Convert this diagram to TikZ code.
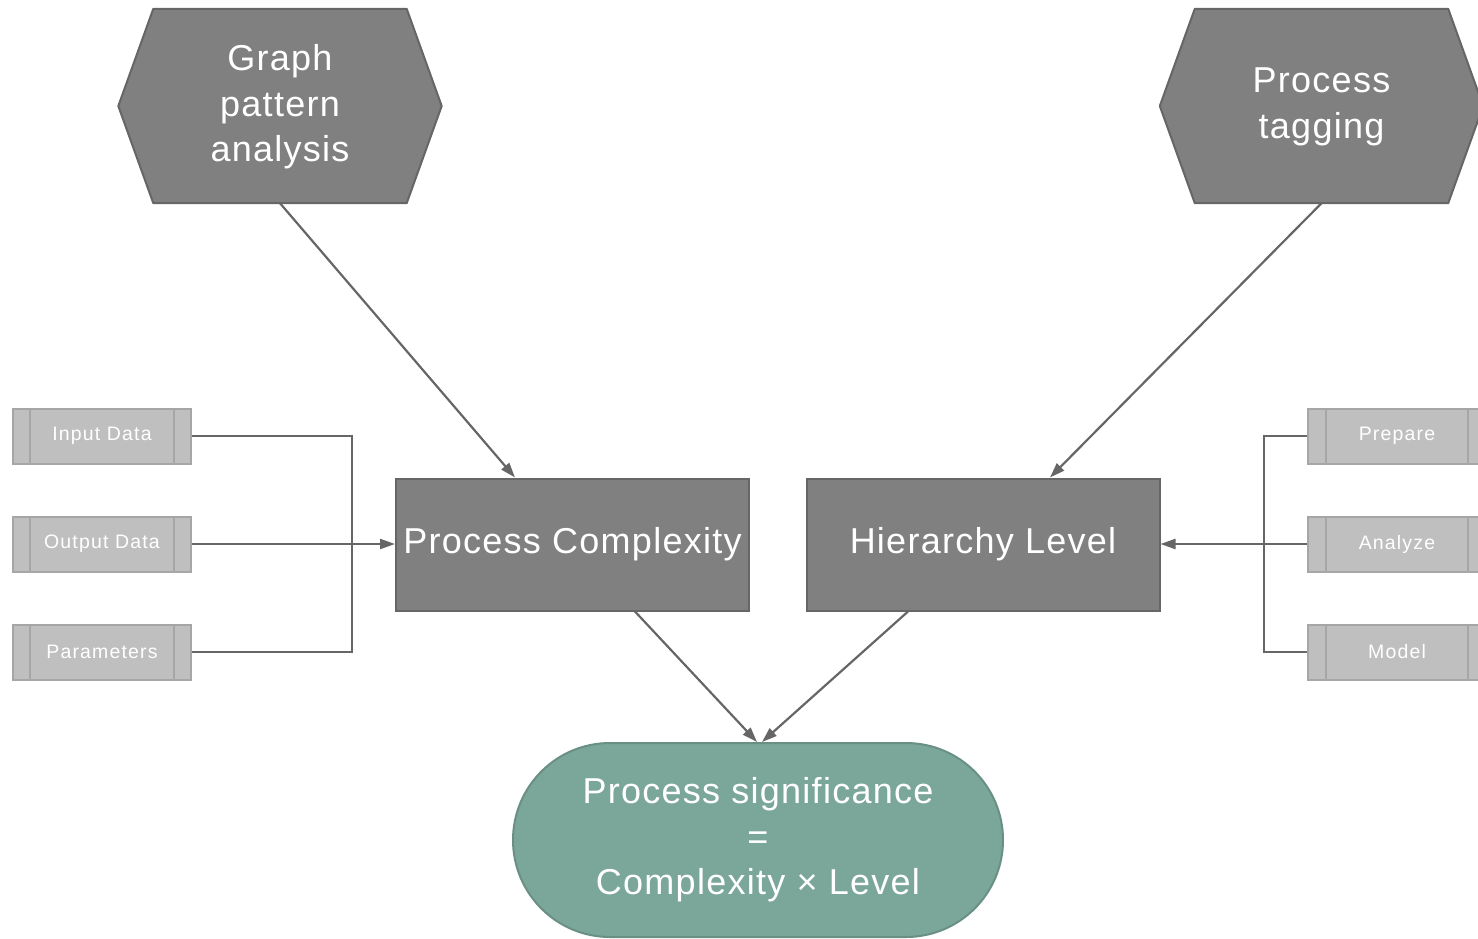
\documentclass[tikz,border=0pt]{standalone}
\usepackage{fontspec}
\setmainfont{Liberation Sans}
\newfontfamily\bigfont{Liberation Sans}[LetterSpace=3.5]
\newfontfamily\smallfont{Liberation Sans}[LetterSpace=6]
\usetikzlibrary{arrows.meta,shapes.misc,backgrounds}

\definecolor{darkbox}{HTML}{808080}
\definecolor{darkline}{HTML}{666666}
\definecolor{lightbox}{HTML}{BFBFBF}
\definecolor{lightline}{HTML}{A6A6A6}
\definecolor{resultfill}{HTML}{7BA69A}
\definecolor{resultline}{HTML}{6A8F84}

\tikzset{
  big/.style={font=\bigfont\fontsize{36}{45.5}\selectfont, text=white, align=center},
  hexlabel/.style={big, minimum width=323pt, minimum height=194pt, inner sep=0pt},
  hexfill/.style={fill=darkbox, draw=darkline, line width=2pt, line join=round},
  procbox/.style={big, rectangle, fill=darkbox, draw=darkline, line width=2pt,
    minimum width=353pt, minimum height=132pt, inner sep=0pt},
  subbox/.style={rectangle, fill=lightbox, draw=lightline, line width=2pt,
    minimum width=178pt, minimum height=55pt, inner sep=0pt, text=white,
    font=\smallfont\fontsize{19.5}{23}\selectfont},
  result/.style={big, rounded rectangle, fill=resultfill, draw=resultline, line width=2pt,
    minimum width=490pt, minimum height=194pt, inner sep=0pt},
  flow/.style={draw=darkline, line width=2.2pt, -{Triangle[length=15pt,width=10pt]}},
  feed/.style={draw=darkline, line width=2pt},
}

\begin{document}
\begin{tikzpicture}[x=1pt,y=-1pt]
\useasboundingbox (0,0) rectangle (1478,938);

% source hexagons (outline raised 1pt above the label centre)
\node[hexlabel] (gpa) at (280,107) {Graph\\pattern\\analysis};
\node[hexlabel] (tag) at (1321.5,107) {Process\\tagging};
\begin{scope}[on background layer]
  \foreach \h in {gpa,tag}{
    \draw[hexfill] ([yshift=1pt]\h.west) -- ([xshift=35pt,yshift=1pt]\h.north west)
      -- ([xshift=-35pt,yshift=1pt]\h.north east) -- ([yshift=1pt]\h.east)
      -- ([xshift=-35pt,yshift=1pt]\h.south east) -- ([xshift=35pt,yshift=1pt]\h.south west) -- cycle;
  }
\end{scope}

% measure boxes
\node[procbox] (pc) at (572.5,544.5) {Process Complexity};
\node[procbox] (hl) at (983,544.5) {Hierarchy Level};

% result
\node[result] (sig) at (758,840) {Process significance\\=\\Complexity × Level};

% data inputs (left)
\node[subbox] (in)  at (102,436) {Input Data};
\node[subbox] (out) at (102,544) {Output Data};
\node[subbox] (par) at (102,652) {Parameters};
% stages (right)
\node[subbox] (prep) at (1397,436) {Prepare};
\node[subbox] (ana)  at (1397,544) {Analyze};
\node[subbox] (mod)  at (1397,652) {Model};

% inner bars of the sub-boxes
\foreach \b in {in,out,par}{
  \draw[lightline, line width=2pt] ([xshift=18pt]\b.north west) -- ([xshift=18pt]\b.south west);
  \draw[lightline, line width=2pt] ([xshift=-18pt]\b.north east) -- ([xshift=-18pt]\b.south east);
}
\foreach \b in {prep,ana,mod}{
  \draw[lightline, line width=2pt] ([xshift=19pt]\b.north west) -- ([xshift=19pt]\b.south west);
  \draw[lightline, line width=2pt] ([xshift=-19pt]\b.north east) -- ([xshift=-19pt]\b.south east);
}

% bus joints
\coordinate (lbus) at (352,544);
\coordinate (rbus) at (1264,544);

% feeds into Process Complexity
\draw[feed] (in.east) -| (lbus);
\draw[feed] (par.east) -| (lbus);
\draw[flow] (out.east) -- (out.east -| pc.west);

% feeds into Hierarchy Level
\draw[feed] (prep.west) -| (rbus);
\draw[feed] (mod.west) -| (rbus);
\draw[flow] (ana.west) -- (ana.west -| hl.east);

% main flow
\draw[flow] ([yshift=1pt]gpa.south) -- ([xshift=-57.5pt]pc.north);
\draw[flow] ([yshift=1pt]tag.south) -- ([xshift=67pt]hl.north);
\draw[flow] ([xshift=62.5pt]pc.south) -- ([xshift=-1pt]sig.north);
\draw[flow] ([xshift=-75pt]hl.south) -- ([xshift=4pt]sig.north);
\end{tikzpicture}
\end{document}
